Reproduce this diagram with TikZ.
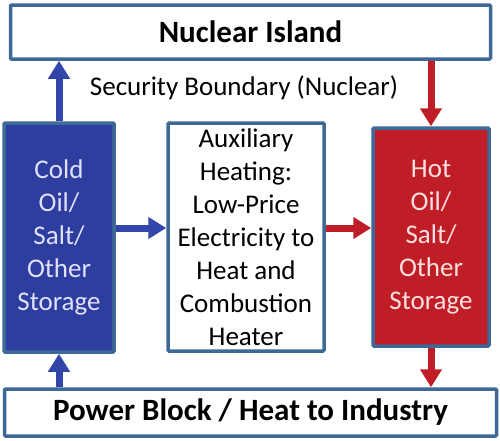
\documentclass[tikz,border=0pt]{standalone}
\usepackage{fontspec}
\setmainfont{Carlito}
\usetikzlibrary{arrows.meta}

\definecolor{edgeblue}{RGB}{62,104,150}
\definecolor{coldfill}{RGB}{46,62,158}
\definecolor{hotfill}{RGB}{192,30,38}
\definecolor{coldarrow}{RGB}{50,70,170}
\definecolor{hotarrow}{RGB}{192,30,38}

\tikzset{
  block/.style={draw=edgeblue,line width=3.5pt,rounded corners=1pt,inner sep=0pt,
    align=center,font=\fontsize{27}{33}\selectfont},
  flow/.style={line width=7pt,-{Triangle[width=21pt,length=18pt]}}
}

\begin{document}
\begin{tikzpicture}[x=1pt,y=-1pt]
      \useasboundingbox (0,0) rectangle (500,440);

      \begin{scope}[every node/.style={block}]
        \node (island) at (250.5,32) [minimum width=480pt,minimum height=54pt,
          font=\fontsize{31}{36}\selectfont\bfseries] {Nuclear Island};
        \node (cold) at (59,237.5) [minimum width=110pt,minimum height=229pt,
          fill=coldfill,text=white!88!blue] {Cold\\Oil/\\Salt/\\Other\\Storage};
        \node (aux) at (246,237) [minimum width=156pt,minimum height=228pt,fill=white]
          {Auxiliary\\Heating:\\Low-Price\\Electricity to\\Heat and\\Combustion\\Heater};
        \node (hot) at (431,237) [minimum width=116pt,minimum height=218pt,
          fill=hotfill,text=white!88!red] {Hot\\Oil/\\Salt/\\Other\\Storage};
        \node (power) at (250.5,412.5) [minimum width=492pt,minimum height=47pt,
          font=\fontsize{31}{36}\selectfont\bfseries] {Power Block / Heat to Industry};
      \end{scope}

      \node (boundary) at (244,88) [font=\fontsize{27}{33}\selectfont] {Security Boundary (Nuclear)};

      \begin{scope}[every path/.style={flow}]
        \path[draw=coldarrow] (power.north -| cold.north) -- (cold.south);
        \path[draw=coldarrow] (cold.north) -- (cold.north |- island.south);
        \path[draw=coldarrow] (cold.east |- 0,228) -- (aux.west |- 0,228);
        \path[draw=hotarrow]  (aux.east |- 0,228) -- (hot.west |- 0,228);
        \path[draw=hotarrow]  (hot.north |- island.south) -- (hot.north);
        \path[draw=hotarrow]  (hot.south) -- (hot.south |- power.north);
      \end{scope}

    \end{tikzpicture}
\end{document}
